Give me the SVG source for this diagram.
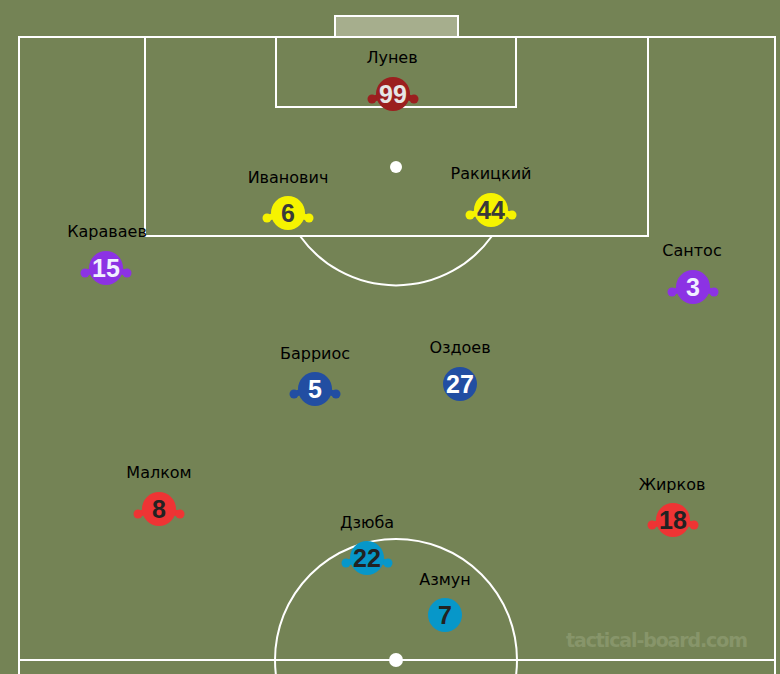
<svg xmlns="http://www.w3.org/2000/svg" width="780" height="674" viewBox="0 0 780 674">
<defs>
<style>
.ln{fill:none;stroke:#fff;stroke-width:2}
.lbl{font-family:"DejaVu Sans",sans-serif;font-size:16px;fill:#000;text-anchor:middle}
.num{font-family:"Liberation Sans",Arial,sans-serif;font-weight:bold;font-size:25px;text-anchor:middle}
.arm{stroke-width:6;stroke-linecap:round;fill:none}
.hand{stroke:none}
</style>
<g id="armsL"><line class="arm" x1="-12" y1="2" x2="-20" y2="5"/><line class="arm" x1="12" y1="2" x2="20" y2="5"/><circle class="hand" cx="-21" cy="5" r="4.5"/><circle class="hand" cx="21" cy="5" r="4.5"/></g>
</defs>
<rect width="780" height="674" fill="#748355"/>
<g id="pitch">
<rect x="335" y="16" width="123" height="21" fill="#a6ae8d" stroke="#fff" stroke-width="2"/>
<rect class="ln" x="19" y="37" width="756" height="660"/>
<rect class="ln" x="145" y="37" width="503" height="199"/>
<rect class="ln" x="276" y="37" width="240" height="70"/>
<path class="ln" d="M300,236 A118,118 0 0 0 492,236"/>
<circle cx="396" cy="167" r="6" fill="#fff"/>
<line class="ln" x1="19" y1="660" x2="775" y2="660"/>
<circle class="ln" cx="396" cy="660" r="121"/>
<circle cx="396" cy="660" r="7" fill="#fff"/>
</g>
<text x="657" y="647" font-family="'Comic Sans MS','DejaVu Sans',sans-serif" font-weight="bold" font-size="19" fill="#87956a" text-anchor="middle" textLength="182">tactical-board.com</text>
<g id="connectors"></g>
<g id="p-lunev" transform="translate(393,94)">
<use href="#armsL" stroke="#9b1f1f" fill="#9b1f1f"/><circle r="17" fill="#9b1f1f"/>
<text class="num" y="9" fill="#e6e6e6">99</text>
<text class="lbl" x="-1" y="-31">Лунев</text>
</g>
<g id="p-ivanovich" transform="translate(288,213)">
<use href="#armsL" stroke="#f6f300" fill="#f6f300"/><circle r="17" fill="#f6f300"/>
<text class="num" y="9" fill="#3a3a3a">6</text>
<text class="lbl" x="0" y="-30">Иванович</text>
</g>
<g id="p-rakitsky" transform="translate(491,210)">
<use href="#armsL" stroke="#f6f300" fill="#f6f300"/><circle r="17" fill="#f6f300"/>
<text class="num" y="9" fill="#3a3a3a">44</text>
<text class="lbl" x="0" y="-31">Ракицкий</text>
</g>
<g id="p-karavaev" transform="translate(106,268)">
<use href="#armsL" stroke="#8c32e4" fill="#8c32e4"/><circle r="17" fill="#8c32e4"/>
<text class="num" y="9" fill="#f0f0ff">15</text>
<text class="lbl" x="1" y="-31">Караваев</text>
</g>
<g id="p-santos" transform="translate(693,287)">
<use href="#armsL" stroke="#8c32e4" fill="#8c32e4"/><circle r="17" fill="#8c32e4"/>
<text class="num" y="9" fill="#f0f0ff">3</text>
<text class="lbl" x="-1" y="-31">Сантос</text>
</g>
<g id="p-barrios" transform="translate(315,389)">
<use href="#armsL" stroke="#224ea2" fill="#224ea2"/><circle r="17" fill="#224ea2"/>
<text class="num" y="9" fill="#fff">5</text>
<text class="lbl" x="0" y="-30">Барриос</text>
</g>
<g id="p-ozdoev" transform="translate(460,384)">
<circle r="17" fill="#224ea2"/>
<text class="num" y="9" fill="#fff">27</text>
<text class="lbl" x="0" y="-31">Оздоев</text>
</g>
<g id="p-malcom" transform="translate(159,509)">
<use href="#armsL" stroke="#ee3434" fill="#ee3434"/><circle r="17" fill="#ee3434"/>
<text class="num" y="9" fill="#222">8</text>
<text class="lbl" x="0" y="-31">Малком</text>
</g>
<g id="p-zhirkov" transform="translate(673,520)">
<use href="#armsL" stroke="#ee3434" fill="#ee3434"/><circle r="17" fill="#ee3434"/>
<text class="num" y="9" fill="#222">18</text>
<text class="lbl" x="-1" y="-30">Жирков</text>
</g>
<g id="p-dzyuba" transform="translate(367,558)">
<use href="#armsL" stroke="#0797c9" fill="#0797c9"/><circle r="17" fill="#0797c9"/>
<text class="num" y="9" fill="#222">22</text>
<text class="lbl" x="0" y="-30">Дзюба</text>
</g>
<g id="p-azmun" transform="translate(445,615)">
<circle r="17" fill="#0797c9"/>
<text class="num" y="9" fill="#222">7</text>
<text class="lbl" x="0" y="-30">Азмун</text>
</g>
</svg>
